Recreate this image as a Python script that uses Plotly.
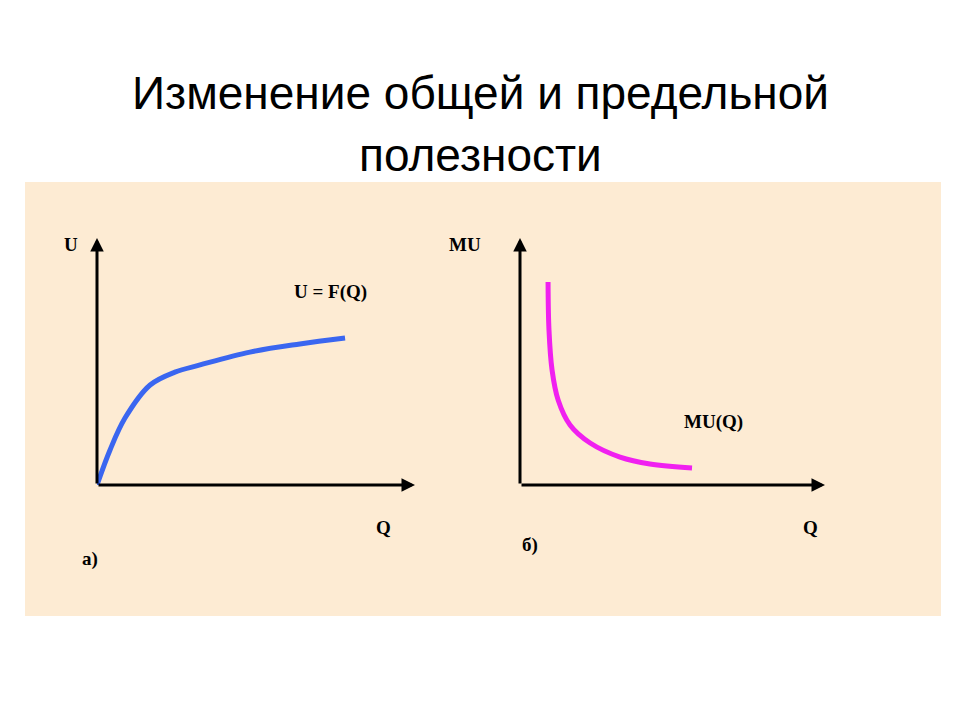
import plotly.graph_objects as go

# total utility U = F(Q)
u_q = [0, 0.41, 0.88, 1.67, 2.45, 3.24, 4.81, 6.38, 7.8]
u_val = [0, 1.42, 2.71, 4.05, 4.57, 4.86, 5.38, 5.71, 5.95]

# marginal utility MU(Q)
mu_q = [0.92, 0.95, 1.05, 1.25, 1.64, 2.30, 3.28, 4.26, 5.64]
mu_val = [8.22, 6.28, 4.66, 3.44, 2.43, 1.70, 1.13, 0.85, 0.69]

W, H = 960, 720
OFF = 8  # page body margin shifts everything


def px(v):
    return (v - OFF) / W


def py(v):
    return 1 - (v - OFF) / H


y_dom = [py(485), py(238)]

fig = go.Figure()
fig.add_trace(go.Scatter(x=u_q, y=u_val, mode="lines", line=dict(color="#3a66f0", width=5, shape="spline"),
                         xaxis="x", yaxis="y", hoverinfo="skip"))
fig.add_trace(go.Scatter(x=mu_q, y=mu_val, mode="lines", line=dict(color="#f020f0", width=5, shape="spline"),
                         xaxis="x2", yaxis="y2", hoverinfo="skip"))

ax = dict(range=[0, 10], visible=False, fixedrange=True)
fig.update_layout(
    width=W, height=H, margin=dict(l=0, r=0, t=0, b=0),
    paper_bgcolor="white", plot_bgcolor="rgba(0,0,0,0)", showlegend=False,
    xaxis=dict(ax, domain=[px(97), px(415)]), yaxis=dict(ax, domain=y_dom),
    xaxis2=dict(ax, domain=[px(520), px(825)]), yaxis2=dict(ax, domain=y_dom, anchor="x2"),
    shapes=[dict(type="rect", xref="paper", yref="paper", x0=px(25), x1=px(941),
                 y0=py(616), y1=py(182), fillcolor="#fdebd3", line_width=0, layer="below")],
)

serif = dict(family="Liberation Serif", size=19, color="black")
for xs, ys in [("x", "y"), ("x2", "y2")]:
    for tx, ty in [(10, 0), (0, 10)]:
        fig.add_annotation(x=tx, y=ty, ax=0, ay=0, xref=xs, yref=ys, axref=xs, ayref=ys,
                           showarrow=True, arrowhead=2, arrowsize=0.9, arrowwidth=3,
                           arrowcolor="black", text="")

texts = [("U", 62, 232), ("U = F(Q)", 330, 292), ("Q", 383, 540), ("а)", 80, 572),
         ("MU", 465, 232), ("MU(Q)", 745, 422), ("Q", 820, 540), ("б)", 530, 558)]
for t, x0, y0 in texts:
    fig.add_annotation(x=px(x0), y=py(y0), xref="paper", yref="paper", text="<b>%s</b>" % t,
                       showarrow=False, font=serif)

for line, yc in [("Изменение общей и предельной", 65), ("полезности", 127)]:
    fig.add_annotation(x=px(480), y=py(yc), xref="paper", yref="paper", showarrow=False,
                       text=line, font=dict(family="Liberation Sans", size=46, color="black"))

fig.write_html("out.html")
